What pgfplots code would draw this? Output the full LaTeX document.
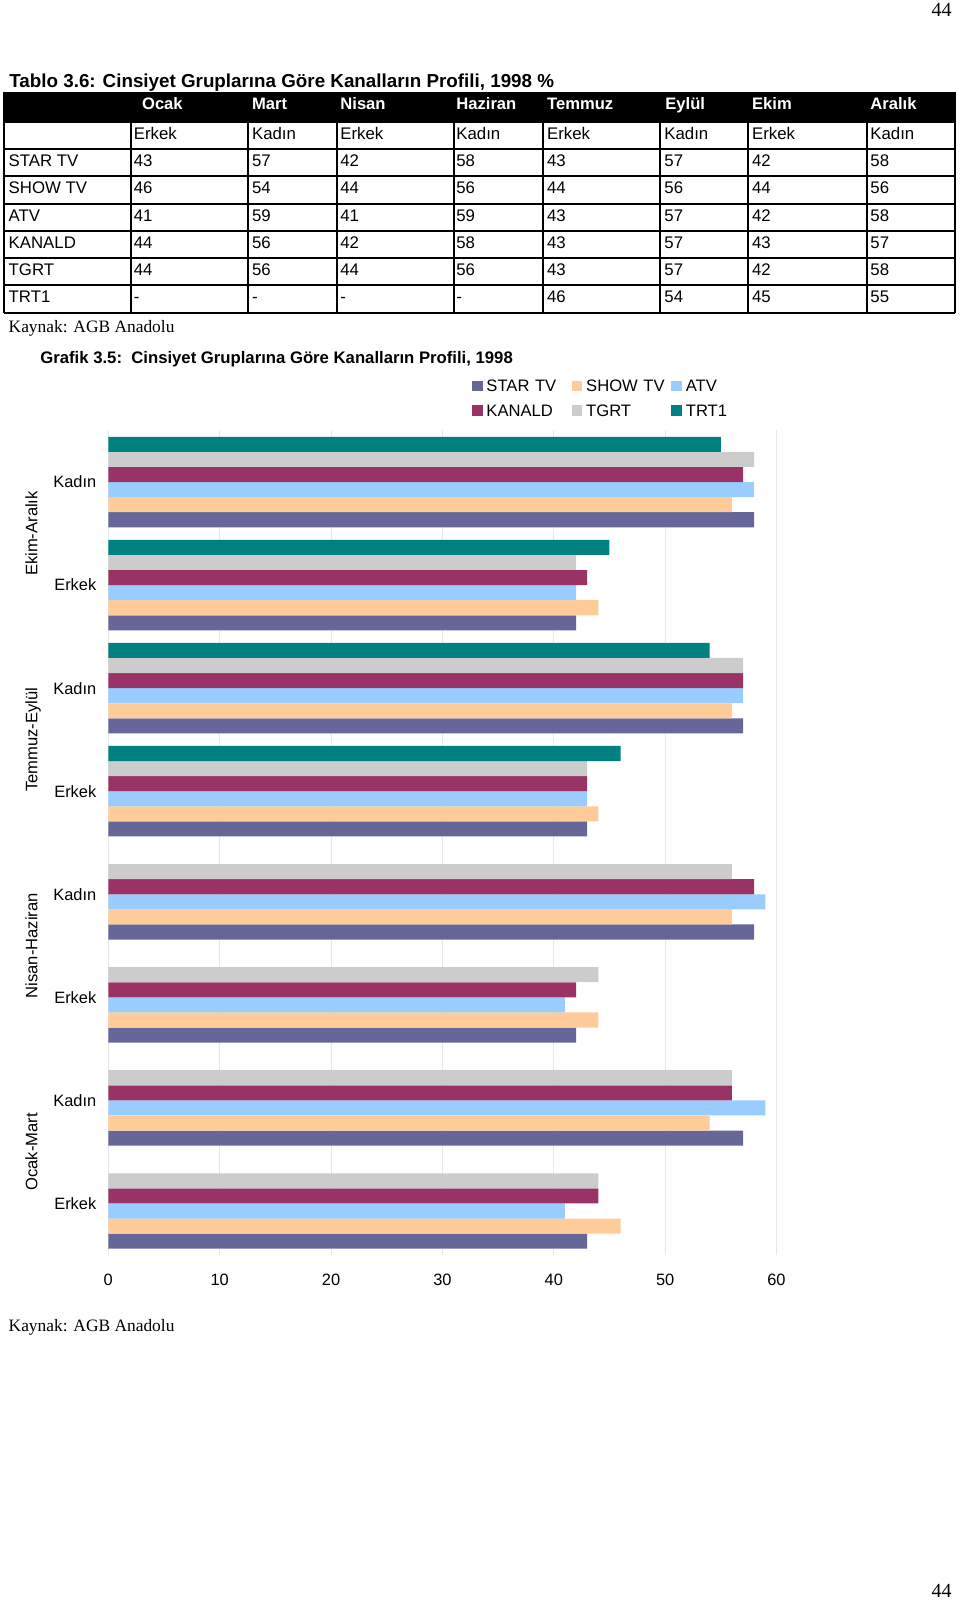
\documentclass[border=0pt]{standalone}
\usepackage{fontspec}
\setmainfont{Liberation Sans}
\newfontfamily\seriffont{Liberation Serif}
\usepackage{pgfplots}
\pgfplotsset{compat=1.18}
\definecolor{starc}{HTML}{666699}
\definecolor{showc}{HTML}{FFCC99}
\definecolor{atvc}{HTML}{99CCFF}
\definecolor{kanc}{HTML}{993366}
\definecolor{tgrtc}{HTML}{CCCCCC}
\definecolor{trtc}{HTML}{008080}
\definecolor{gridc}{HTML}{E8E8E8}
\newcommand\fs[1]{\fontsize{#1}{#1}\selectfont}
\begin{document}
\begin{tikzpicture}
\useasboundingbox (0,0) rectangle (480pt,800pt);
% page drawn in pixel units, y downwards
\begin{scope}[x=0.5pt,y=-0.5pt,yshift=800pt]
  \node[anchor=base east,inner sep=0pt,font=\seriffont\fs{10}] at (952,17) {44};
  \node[anchor=base east,inner sep=0pt,font=\seriffont\fs{10}] at (952,1597) {44};
  \node[anchor=base west,inner sep=0pt,font=\bfseries\fs{9.4}] at (9,87.3)
    {Tablo 3.6: Cinsiyet Gruplarına Göre Kanalların Profili, 1998 \%};
  % table
  \fill[black] (4,92.3) rectangle (955,121.7);
  \foreach \y in {121.7,149,176.3,203.6,230.9,258.2,285.5,312.8}
    \draw[line width=1pt] (4,\y) -- (955,\y);
  \foreach \x in {4,131,248.3,336.7,454,543.3,660,748.3,866.7,955}
    \draw[line width=1pt] (\x,92.3) -- (\x,312.8);
  \foreach \t/\x in {Ocak/141.7,Mart/251.7,Nisan/340,Haziran/456,Temmuz/546.7,Eylül/665,Ekim/751.7,Aralık/870}
    \node[anchor=base west,inner sep=0pt,text=white,font=\bfseries\fs{8.3}] at (\x,110) {\t};
  \foreach \t/\x in {Erkek/133.5,Kadın/251.7,Erkek/340,Kadın/456,Erkek/546.7,Kadın/664,Erkek/751.7,Kadın/870}
    \node[anchor=base west,inner sep=0pt,font=\fs{8.4}] at (\x,139.2) {\t};
  \foreach \name/\vals [count=\r] in {
      STAR TV/{43,57,42,58,43,57,42,58},
      SHOW TV/{46,54,44,56,44,56,44,56},
      ATV/{41,59,41,59,43,57,42,58},
      KANALD/{44,56,42,58,43,57,43,57},
      TGRT/{44,56,44,56,43,57,42,58},
      TRT1/{-,-,-,-,46,54,45,55}} {
    \pgfmathsetmacro\yb{149+27.3*\r-9.8}
    \node[anchor=base west,inner sep=0pt,font=\fs{8.4}] at (8.3,\yb) {\name};
    \foreach \v [count=\c] in \vals {
      \pgfmathsetmacro\xx{{133.5,251.7,340,456,546.7,664,751.7,870}[\c-1]}
      \node[anchor=base west,inner sep=0pt,font=\fs{8.4}] at (\xx,\yb) {\v};
    }
  }
  \node[anchor=base west,inner sep=0pt,font=\seriffont\fs{8.7}] at (8.3,332.5) {Kaynak: AGB Anadolu};
  \node[anchor=base west,inner sep=0pt,font=\bfseries\fs{8.35}] at (40,364)
    {Grafik 3.5:\ \ Cinsiyet Gruplarına Göre Kanalların Profili, 1998};
  \node[anchor=base west,inner sep=0pt,font=\seriffont\fs{8.7}] at (8.3,1331.5) {Kaynak: AGB Anadolu};
\end{scope}

\begin{axis}[
  at={(54.15pt,172.5pt)}, anchor=south west,
  scale only axis, width=334.1pt, height=412.25pt,
  clip=false,
  xbar, bar width=0.146,
  xmin=0, xmax=60, ymin=-0.5, ymax=7.5,
  xtick={0,10,...,60},
  ytick={0,...,7},
  yticklabels={Erkek,Kadın,Erkek,Kadın,Erkek,Kadın,Erkek,Kadın},
  axis line style={draw=none},
  tick style={draw=none},
  xmajorgrids,
  grid style={color=gridc, line width=0.5pt},
  tick label style={font=\fs{8.2}},
  /pgf/number format/assume math mode=true,
  xticklabel style={anchor=base, inner sep=0pt, yshift=-15.15pt},
  yticklabel style={anchor=east, inner sep=0pt, xshift=-1.55pt},
  legend columns=3,
  legend cell align=left,
  legend image code/.code={\fill[#1] (0pt,-2.65pt) rectangle (5.4pt,2.65pt);},
  legend style={at={(0.5443,1.0612)}, anchor=north west, draw=none, fill=none,
    inner sep=0pt, outer sep=0pt, column sep=1.85pt, row sep=6.25pt,
    nodes={inner sep=0pt, text width=40.75pt, text height=5.9pt, text depth=0pt, font=\fs{8.3}}},
]
\addplot[fill=starc, draw=none, bar shift=-0.366] coordinates {(43,0) (57,1) (42,2) (58,3) (43,4) (57,5) (42,6) (58,7)};
\addplot[fill=showc, draw=none, bar shift=-0.220] coordinates {(46,0) (54,1) (44,2) (56,3) (44,4) (56,5) (44,6) (56,7)};
\addplot[fill=atvc, draw=none, bar shift=-0.073] coordinates {(41,0) (59,1) (41,2) (59,3) (43,4) (57,5) (42,6) (58,7)};
\addplot[fill=kanc, draw=none, bar shift=0.073] coordinates {(44,0) (56,1) (42,2) (58,3) (43,4) (57,5) (43,6) (57,7)};
\addplot[fill=tgrtc, draw=none, bar shift=0.220] coordinates {(44,0) (56,1) (44,2) (56,3) (43,4) (57,5) (42,6) (58,7)};
\addplot[fill=trtc, draw=none, bar shift=0.366] coordinates {(46,4) (54,5) (45,6) (55,7)};
\legend{STAR TV,SHOW TV,ATV,KANALD,TGRT,TRT1}
\node[rotate=90, anchor=base, inner sep=0pt, font=\fs{8.3}] at ([xshift=-35.5pt]axis cs:0,0.5) {Ocak-Mart};
\node[rotate=90, anchor=base, inner sep=0pt, font=\fs{8.3}] at ([xshift=-35.5pt]axis cs:0,2.5) {Nisan-Haziran};
\node[rotate=90, anchor=base, inner sep=0pt, font=\fs{8.3}] at ([xshift=-35.5pt]axis cs:0,4.5) {Temmuz-Eylül};
\node[rotate=90, anchor=base, inner sep=0pt, font=\fs{8.3}] at ([xshift=-35.5pt]axis cs:0,6.5) {Ekim-Aralık};
\end{axis}
\end{tikzpicture}
\end{document}
